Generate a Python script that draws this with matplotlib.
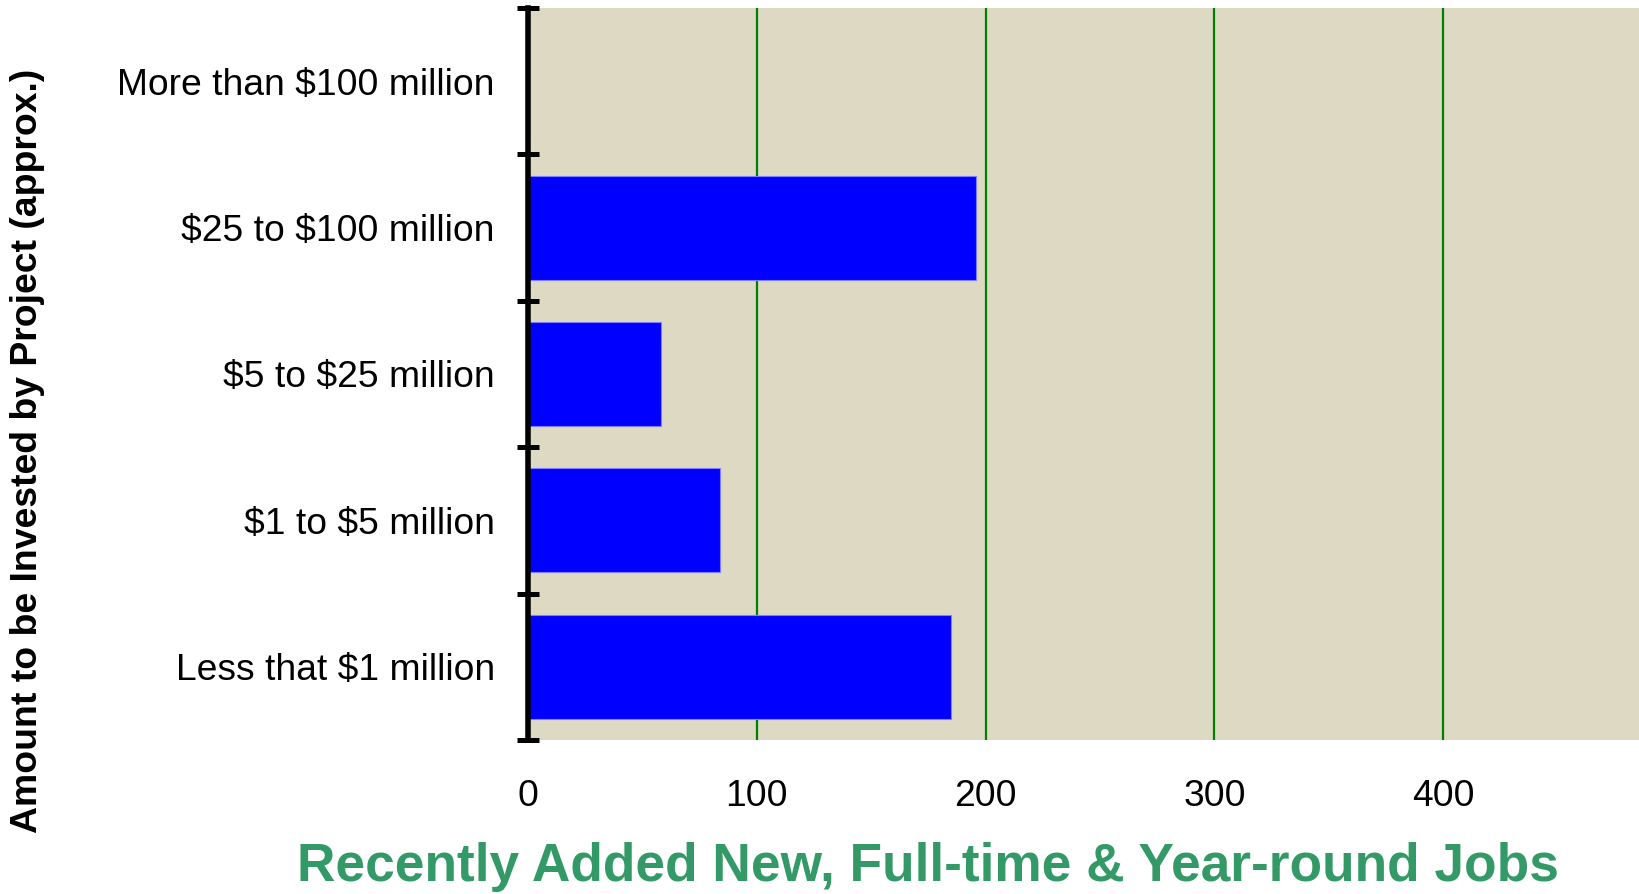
import matplotlib
matplotlib.use('Agg')
import matplotlib.pyplot as plt
import numpy as np

plt.rcParams['font.family'] = ['Liberation Sans', 'DejaVu Sans']
plt.rcParams['text.parse_math'] = False

# investment brackets, bottom to top
categories = ['Less that $1 million', '$1 to $5 million', '$5 to $25 million',
              '$25 to $100 million', 'More than $100 million']
jobs = [185, 84, 58, 196, 0]
x_ticks = [0, 100, 200, 300, 400]

fig = plt.figure(figsize=(16.4, 8.94), dpi=100)
ax = fig.add_axes([528 / 1640, 1 - 740 / 894, 1 - 528 / 1640, 732 / 894])
ax.set_facecolor('#ddd9c3')

y = np.arange(len(categories))
ax.barh(y, jobs, height=0.71, color='#0000ff', edgecolor='#7f7fff', linewidth=0.8, zorder=2)

# vertical grid lines
for v in x_ticks[1:]:
    ax.axvline(v, color='#008000', linewidth=1.6, zorder=1)

ax.set_xlim(0, 486)
ax.set_ylim(-0.5, len(categories) - 0.5)

ax.set_xticks(x_ticks)
ax.set_xticklabels([str(v) for v in x_ticks], fontsize=26.8)
ax.tick_params(axis='x', length=0, pad=28)

# ticks on category boundaries, labels at the centers
ax.set_yticks(np.arange(-0.5, len(categories)))
ax.set_yticklabels([])
ax.set_yticks(y, minor=True)
ax.set_yticklabels(categories, minor=True, fontsize=26.8)
ax.tick_params(axis='y', which='major', direction='inout', length=16, width=3.6, color='black')
ax.tick_params(axis='y', which='minor', length=0, pad=24)

for s in ['top', 'right', 'bottom']:
    ax.spines[s].set_visible(False)
ax.spines['left'].set_linewidth(4)
ax.spines['left'].set_zorder(3)

fig.text(928 / 1640, 1 - 867 / 894, 'Recently Added New, Full-time & Year-round Jobs',
         ha='center', va='center', fontsize=38.3, fontweight='bold', color='#339966')
fig.text(28 / 1640, 1 - 451 / 894, 'Amount to be Invested by Project (approx.)',
         ha='center', va='center', rotation=90, fontsize=26.9, fontweight='bold', color='black')

fig.savefig('out.png', dpi=100)
